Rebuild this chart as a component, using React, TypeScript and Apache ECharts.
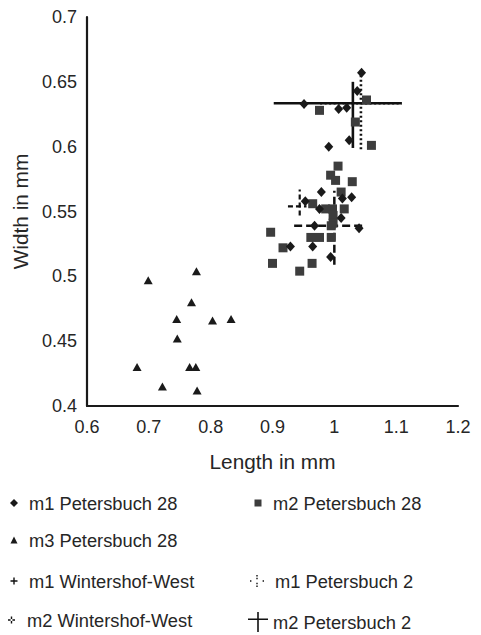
import React, { useEffect, useRef } from 'react';
import * as echarts from 'echarts';

// m1 Petersbuch 28 (length, width)
const m1P28: number[][] = [
  [1.044, 0.657], [1.037, 0.643], [0.951, 0.633], [1.007, 0.629], [1.020, 0.630],
  [1.024, 0.605], [0.991, 0.600],
  [0.979, 0.565], [1.013, 0.560], [1.028, 0.561], [0.953, 0.558], [0.976, 0.552],
  [1.011, 0.545], [0.968, 0.539], [1.040, 0.537], [0.929, 0.523], [0.965, 0.523],
  [0.994, 0.515],
];
// m2 Petersbuch 28
const m2P28: number[][] = [
  [0.976, 0.628], [1.052, 0.636], [1.034, 0.619], [1.060, 0.601],
  [1.006, 0.585], [0.994, 0.578], [1.002, 0.574], [1.029, 0.573], [1.011, 0.565],
  [1.016, 0.552], [0.965, 0.556], [0.986, 0.552], [0.997, 0.552], [0.998, 0.547],
  [0.998, 0.541], [0.995, 0.539], [0.995, 0.530], [0.962, 0.530], [0.976, 0.530],
  [0.897, 0.534], [0.917, 0.522], [0.900, 0.510], [0.944, 0.504], [0.964, 0.510],
];
// m3 Petersbuch 28
const m3P28: number[][] = [
  [0.777, 0.504], [0.699, 0.497], [0.769, 0.480], [0.745, 0.467], [0.803, 0.466],
  [0.833, 0.467], [0.746, 0.452], [0.681, 0.430], [0.766, 0.430], [0.776, 0.430],
  [0.722, 0.415], [0.778, 0.412],
];
// Mean with error ranges: [length, width, lengthLow, lengthHigh, widthLow, widthHigh]
const m1WW: number[][] = [[0.944, 0.554, 0.925, 0.955, 0.547, 0.567]];
const m2WW: number[][] = [[1.0, 0.539, 0.935, 1.047, 0.509, 0.566]];
const m1P2: number[][] = [[1.043, 0.6335, 0.977, 1.109, 0.598, 0.659]];
const m2P2: number[][] = [[1.030, 0.6335, 0.902, 1.109, 0.599, 0.650]];

const xTicks = { min: 0.6, max: 1.2, interval: 0.1 };
const yTicks = { min: 0.4, max: 0.7, interval: 0.05 };

const FONT = '"Liberation Sans", Arial, sans-serif';
const TXT = '#262626';

const crossSeries = (name: string, data: number[][], dash: any, width: number) => ({
  type: 'custom',
  name,
  data,
  z: 1,
  itemStyle: { color: '#111' },
  encode: { x: [0, 2, 3], y: [1, 4, 5] },
  renderItem: (params: any, api: any) => {
    const xl = api.coord([api.value(2), api.value(1)]);
    const xh = api.coord([api.value(3), api.value(1)]);
    const yl = api.coord([api.value(0), api.value(4)]);
    const yh = api.coord([api.value(0), api.value(5)]);
    const style = { stroke: '#111', lineWidth: width, lineDash: dash, fill: null };
    return {
      type: 'group',
      children: [
        { type: 'line', shape: { x1: xl[0], y1: xl[1], x2: xh[0], y2: xh[1] }, style },
        { type: 'line', shape: { x1: yl[0], y1: yl[1], x2: yh[0], y2: yh[1] }, style },
      ],
    };
  },
});

const legendItem = (name: string, icon: string, left: number, top: number, w: number, h: number, padL: number, extra: any = {}) => ({
  data: [{ name, icon }],
  left,
  top,
  padding: 0,
  itemWidth: w,
  itemHeight: h,
  selectedMode: false,
  textStyle: { fontSize: 18.3, color: TXT, fontFamily: FONT, padding: [0, 0, 0, padL], ...extra },
});

const ICON_PLUS = 'path://M0,2.8h7v1.4h-7z M2.8,0h1.4v7h-1.4z';
const ICON_PLUS2 = 'path://M0,2.8h2.6v1.4h-2.6z M4.4,2.8h2.6v1.4h-2.6z M2.8,0h1.4v2.6h-1.4z M2.8,4.4h1.4v2.6h-1.4z';
const ICON_DOTCROSS = 'path://M0,5.3h1.4v1.4h-1.4z M12.6,5.3h1.4v1.4h-1.4z M6.3,0h1.4v1.4h-1.4z M6.3,2.8h1.4v1.4h-1.4z M6.3,7.8h1.4v1.4h-1.4z M6.3,10.6h1.4v1.4h-1.4z';
const ICON_CROSS = 'path://M0,6.5h20v1.6h-20z M9.2,0h1.6v20h-1.6z';

export default function App() {
  const ref = useRef<HTMLDivElement>(null);
  useEffect(() => {
    if (!ref.current) return;
    const chart = echarts.init(ref.current, undefined, { renderer: 'svg' });
    chart.setOption({
      animation: false,
      backgroundColor: '#fff',
      textStyle: { fontFamily: FONT },
      grid: { left: 87, top: 17, width: 371, height: 389 },
      xAxis: {
        type: 'value',
        ...xTicks,
        name: 'Length in mm',
        nameLocation: 'middle',
        nameGap: 45,
        nameTextStyle: { fontSize: 20.8, color: TXT, fontFamily: FONT },
        axisLine: { onZero: false, lineStyle: { color: '#1a1a1a', width: 2.2 } },
        axisTick: { show: false },
        splitLine: { show: false },
        axisLabel: { fontSize: 18, color: TXT, fontFamily: FONT, margin: 12 },
      },
      yAxis: {
        type: 'value',
        ...yTicks,
        name: 'Width in mm',
        nameLocation: 'middle',
        nameGap: 50,
        nameTextStyle: { fontSize: 20.8, color: TXT, fontFamily: FONT },
        axisLine: { show: true, onZero: false, lineStyle: { color: '#1a1a1a', width: 2.2 } },
        axisTick: { show: false },
        splitLine: { show: false },
        axisLabel: { fontSize: 18, color: TXT, fontFamily: FONT, margin: 10 },
      },
      legend: [
        legendItem('m1 Petersbuch 28', 'diamond', 10, 494, 8, 8, 6),
        legendItem('m2 Petersbuch 28', 'rect', 254.5, 494, 7, 7, 6.5),
        legendItem('m3 Petersbuch 28', 'triangle', 10.5, 531, 7, 7, 6.5),
        legendItem('m1 Wintershof-West', ICON_PLUS, 10.5, 572, 7, 7, 6.5),
        legendItem('m1 Petersbuch 2', ICON_DOTCROSS, 250, 572, 14, 12, 6),
        legendItem('m2 Wintershof-West', ICON_PLUS2, 8, 611, 7, 7, 7),
        legendItem('m2 Petersbuch 2', ICON_CROSS, 248, 612, 20, 20, 0, { padding: [0, 0, 6, 0] }),
      ],
      series: [
        crossSeries('m2 Petersbuch 2', m2P2, 'solid', 2.6),
        crossSeries('m1 Petersbuch 2', m1P2, [2, 2.5], 2.6),
        crossSeries('m1 Wintershof-West', m1WW, [5, 3], 2.2),
        crossSeries('m2 Wintershof-West', m2WW, [8, 4], 2.5),
        {
          type: 'scatter', name: 'm2 Petersbuch 28', data: m2P28, symbol: 'rect', symbolSize: 9, z: 2,
          itemStyle: { color: '#3d3d3d', opacity: 1 },
        },
        {
          type: 'scatter', name: 'm1 Petersbuch 28', data: m1P28, symbol: 'diamond', symbolSize: [9, 10], z: 3,
          itemStyle: { color: '#1a1a1a', opacity: 1 },
        },
        {
          type: 'scatter', name: 'm3 Petersbuch 28', data: m3P28, symbol: 'triangle', symbolSize: [9, 8], z: 3,
          itemStyle: { color: '#1a1a1a', opacity: 1 },
        },
      ],
    });
    return () => chart.dispose();
  }, []);
  return <div ref={ref} style={{ position: 'fixed', left: 0, top: 0, width: 481, height: 635 }} />;
}
